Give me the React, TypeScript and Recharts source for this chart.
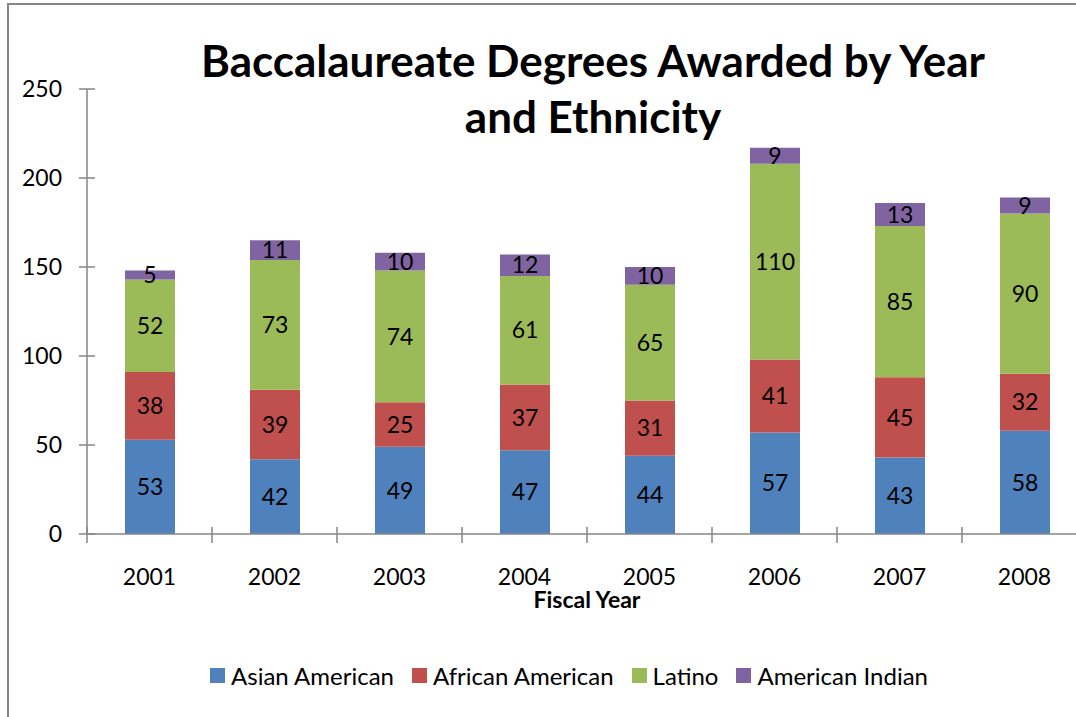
import { BarChart, Bar, XAxis, YAxis, LabelList } from 'recharts';

const years = ['2001', '2002', '2003', '2004', '2005', '2006', '2007', '2008'];
const asianAmerican = [53, 42, 49, 47, 44, 57, 43, 58];
const africanAmerican = [38, 39, 25, 37, 31, 41, 45, 32];
const latino = [52, 73, 74, 61, 65, 110, 85, 90];
const americanIndian = [5, 11, 10, 12, 10, 9, 13, 9];
const yTicks = [0, 50, 100, 150, 200, 250];

const series = [
  { key: 'asian', name: 'Asian American', color: '#4F81BD', values: asianAmerican },
  { key: 'african', name: 'African American', color: '#C0504D', values: africanAmerican },
  { key: 'latino', name: 'Latino', color: '#9BBB59', values: latino },
  { key: 'indian', name: 'American Indian', color: '#8064A2', values: americanIndian },
];

const data = years.map((year, i) => {
  const row: Record<string, string | number> = { year };
  series.forEach((s) => {
    row[s.key] = s.values[i];
  });
  return row;
});

const FONT = 'Lato, "Open Sans", sans-serif';
const AXIS = '#868686';

function YTick(props: any) {
  const { x, y, payload } = props;
  return (
    <g>
      <line x1={x - 8} x2={x + 8} y1={y} y2={y} stroke={AXIS} strokeWidth={1.5} />
      <text x={x - 25} y={y} dy="0.36em" textAnchor="end" fontSize={23} fontFamily={FONT} fill="#000">
        {payload.value}
      </text>
    </g>
  );
}

function XTick(props: any) {
  const { x, y, payload, index, visibleTicksCount } = props;
  const half = payload.offset || 62.5;
  const left = payload.coordinate - half;
  return (
    <g>
      <line x1={left} x2={left} y1={y - 7} y2={y + 9} stroke={AXIS} strokeWidth={1.5} />
      {index === visibleTicksCount - 1 && (
        <line x1={left + 2 * half} x2={left + 2 * half} y1={y - 7} y2={y + 9} stroke={AXIS} strokeWidth={1.5} />
      )}
      <text x={x} y={y + 51} textAnchor="middle" fontSize={23} fontFamily={FONT} fill="#000">
        {payload.value}
      </text>
    </g>
  );
}

export default function App() {
  return (
    <div
      style={{
        position: 'fixed',
        left: 0,
        top: 0,
        width: 1076,
        height: 717,
        overflow: 'hidden',
        background: '#fff',
        fontFamily: FONT,
      }}
    >
      <div
        style={{
          position: 'absolute',
          left: 7,
          top: 3,
          width: 1200,
          height: 800,
          border: '2px solid #878787',
        }}
      />
      <div
        style={{
          position: 'absolute',
          left: 93,
          top: 32,
          width: 1000,
          textAlign: 'center',
          fontSize: 44,
          fontWeight: 700,
          lineHeight: '56px',
          color: '#000',
        }}
      >
        Baccalaureate Degrees Awarded by Year
        <br />
        and Ethnicity
      </div>
      <div style={{ position: 'absolute', left: 0, top: 0 }}>
        <BarChart
          width={1100}
          height={717}
          data={data}
          margin={{ top: 89, right: 13, bottom: 108, left: 0 }}
        >
          <XAxis
            dataKey="year"
            interval={0}
            height={75}
            tickSize={0}
            tickMargin={0}
            tickLine={false}
            axisLine={{ stroke: AXIS, strokeWidth: 1.5 }}
            tick={<XTick />}
            label={{
              value: 'Fiscal Year',
              position: 'insideBottom',
              offset: 1,
              style: { fontWeight: 700, fontSize: 23, fontFamily: FONT, fill: '#000' },
            }}
          />
          <YAxis
            width={87}
            domain={[0, 250]}
            ticks={yTicks}
            interval={0}
            tickSize={0}
            tickMargin={0}
            tickLine={false}
            axisLine={{ stroke: AXIS, strokeWidth: 1.5 }}
            tick={<YTick />}
          />
          {series.map((s) => (
            <Bar key={s.key} dataKey={s.key} name={s.name} stackId="a" fill={s.color} barSize={50} isAnimationActive={false}>
              <LabelList
                dataKey={s.key}
                position="center"
                fill="#000"
                fontSize={23}
                fontFamily={FONT}
              />
            </Bar>
          ))}
        </BarChart>
      </div>
      <div
        style={{
          position: 'absolute',
          left: 210,
          top: 661,
          display: 'flex',
          alignItems: 'center',
          fontSize: 24,
          color: '#000',
          whiteSpace: 'nowrap',
        }}
      >
        {series.map((s) => (
          <div key={s.key} style={{ display: 'flex', alignItems: 'center', marginRight: 18 }}>
            <span style={{ width: 15, height: 15, background: s.color, marginRight: 6, display: 'inline-block' }} />
            <span>{s.name}</span>
          </div>
        ))}
      </div>
    </div>
  );
}
